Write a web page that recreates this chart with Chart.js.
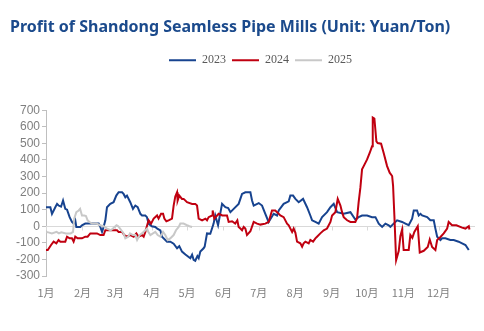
<!DOCTYPE html>
<html>
<head>
<meta charset="utf-8">
<script src="https://cdn.jsdelivr.net/npm/chart.js@4.4.1/dist/chart.umd.min.js"></script>
<style>
  html, body { margin: 0; padding: 0; background: #ffffff; }
  #wrap { width: 484px; height: 331px; position: relative; }
</style>
</head>
<body>
<div id="wrap"><canvas id="profitChart"></canvas></div>
<script>
// day-of-year where each month starts, and the axis labels for them
const monthStartDays = [0, 31, 59, 90, 120, 151, 181, 212, 243, 273, 304, 334];
const monthLabels = ['1月', '2月', '3月', '4月', '5月', '6月', '7月', '8月', '9月', '10月', '11月', '12月'];

// 2023 profit (yuan/ton) by day of year
const days2023 = [0, 3.7, 5.1, 7.9, 9.4, 10.7, 12.8, 14.5, 16.4, 17.9, 20.1, 22.1, 23.5, 24.9, 25.8, 29.2, 30.6, 33.4, 37.7, 44.8,
  46.2, 47.7, 49, 50.5, 51.9, 54.7, 57.5, 59.8, 61.8, 64.7, 66, 67.5, 68.9, 71.7, 74, 76, 78, 80.3, 81.7, 84.5,
  85.9, 87.3, 90, 93, 94.7, 97.3, 98.7, 103, 105.8, 108.6, 111.5, 113.4, 115.7, 118.6, 122.8, 124.3, 125.6, 127, 128.8, 129.9,
  131.3, 134.1, 135, 137, 139.8, 142.6, 144, 146.4, 149.8, 152.6, 155, 156.9, 159.7, 163.9, 166.8, 169.6, 173.9, 175.3, 176.7, 181,
  183.8, 186.6, 189.4, 193.7, 196.6, 198, 202.2, 206.5, 207.9, 210.2, 212.2, 215, 218.7, 222.1, 224.9, 226.4, 229.2, 232, 234.9, 239.1,
  242, 244.8, 247.7, 253.3, 259, 263.2, 266, 268.9, 273.2, 277.4, 280.3, 283.1, 286, 288.8, 291.6, 293, 295.8, 298.7, 303, 305.8,
  308.6, 311.5, 312.9, 315.7, 317.1, 318.6, 320, 324.3, 327, 329.9, 331.3, 332.8, 335.6, 337, 339.8, 344, 346.9, 351.1, 354, 356.9, 359.7];
const profit2023 = [115, 115, 75, 115, 135, 125, 118, 155, 105, 100, 55, 26, 16, 36, -4, -4, 6, 16, 16, 16,
  -4, -34, -4, 36, 115, 135, 145, 185, 205, 205, 195, 175, 185, 145, 105, 125, 115, 75, 65, 65,
  55, 16, 0, -4, -15, -25, -63, -93, -93, -105, -133, -120, -153, -170, -193, -172, -202, -208, -180, -193,
  -153, -133, -123, -43, -45, 16, 65, 6, 135, 115, 110, 85, 105, 135, 195, 205, 205, 155, 125, 140,
  125, 75, 26, 75, 65, 95, 135, 150, 185, 185, 165, 145, 165, 115, 65, 36, 26, 16, 55, 85,
  115, 135, 85, 75, 85, 40, 55, 65, 65, 55, 55, 16, -4, 16, 6, -4, 16, 36, 26, 16,
  6, 46, 95, 95, 65, 75, 65, 55, 36, 36, -14, -63, -83, -73, -73, -83, -83, -93, -103, -113, -143];

// 2024 profit (yuan/ton)
const days2024 = [0, 1.5, 4.3, 6.5, 8.8, 10.7, 12.2, 16.4, 17.9, 20.1, 22.1, 23.5, 24.9, 26.9, 30.6, 33.4, 35.4, 37.7, 43.4, 46.2,
  49, 50.5, 60.4, 61.8, 64.7, 66.6, 68.9, 71.7, 74.6, 76.9, 78.8, 81.7, 83.1, 84.5, 87.3, 89.4, 91.6, 94.5, 95.8, 97.9,
  99.6, 100.7, 102.4, 104.3, 107.2, 108.6, 110, 111.5, 112, 113.4, 115.7, 117.1, 120, 124.3, 127, 128.5, 129.9, 132.8, 135.6, 137,
  138.4, 141.3, 141.8, 143.2, 146.9, 150, 154, 155.4, 158.3, 161, 162.8, 163.9, 165.4, 166.8, 168.2, 169.6, 171, 173.9, 176.7, 179.6,
  182.4, 186.6, 189.4, 192.3, 195.1, 196.6, 199.4, 202.2, 205.1, 206.5, 209.4, 210.7, 212.2, 213.6, 216.4, 217.9, 219.2, 220.7, 223.5, 224.9,
  227.2, 229.2, 230.6, 233.4, 236.3, 239.1, 242, 243.4, 246.2, 248.2, 250.5, 251.9, 253.3, 256.2, 259, 263.2, 264.7, 266, 267.5, 268.9,
  270.3, 273.2, 275.4, 277.4, 278, 279.4, 281.1, 282.2, 285.1, 287.3, 290.2, 292.4, 294.5, 295.3, 296.4, 297.9, 300.1, 301.5, 303, 304.3,
  308.6, 310, 311.7, 313.4, 316.3, 318, 321.4, 324.8, 326.5, 328.5, 331.3, 332.8, 335.6, 338.4, 341.3, 342.6, 345.5, 349.2, 354, 356.9,
  359.7, 360.3];
const profit2024 = [-143, -143, -113, -93, -103, -83, -93, -93, -63, -73, -73, -93, -63, -73, -73, -63, -63, -43, -43, -53,
  -53, -24, -24, -34, -34, -53, -63, -53, -63, -43, -63, -53, -63, -34, 36, 16, 46, 65, 46, 75,
  75, 46, 30, 36, 46, 125, 180, 205, 155, 185, 165, 165, 145, 135, 135, 125, 46, 36, 46, 36,
  55, 65, 95, 46, 75, 65, 65, 26, 30, 16, 36, -4, -14, -24, -4, -14, -53, -30, 26, 16,
  10, 16, 26, 95, 95, 85, 65, 55, 16, 6, -34, -14, -40, -93, -103, -123, -103, -93, -103, -83,
  -93, -73, -63, -43, -24, -14, 26, 65, 85, 165, 125, 85, 55, 36, 26, 26, 50, 145, 234, 343,
  363, 403, 442, 482, 656, 650, 512, 502, 498, 442, 363, 323, 303, 244, 65, -205, -150, -60, -20, -143,
  -143, -53, -70, -34, 0, -158, -148, -125, -80, -125, -143, -83, -65, -43, -14, 26, 6, 6, -8, -14,
  0, -20];

// 2025 profit (yuan/ton), data so far
const days2025 = [0, 2, 5, 9, 11, 13, 17, 21, 23, 24, 25.8, 27.8, 29, 30.6, 32.6, 34, 35.4, 37, 39, 43,
  46, 49, 52, 55, 57, 60, 61.5, 63, 66, 67.5, 70, 71.5, 74, 76, 77.5, 79.7, 81.6, 84.5, 86, 87,
  88.8, 91, 93, 95, 97.3, 99.6, 101.5, 103.5, 105.7, 108.6, 110.6, 112.9, 114.3, 117, 120, 122, 124.3];
const profit2025 = [-34, -37, -43, -34, -43, -37, -43, -43, -34, 46, 85, 95, 105, 65, 65, 62, 36, 26, 16, 16,
  6, 0, -14, -24, -14, 6, 0, -14, -43, -73, -63, -43, -53, -53, -83, -53, -43, -24, -14, -34,
  -53, -43, -34, -53, -63, -34, -53, -83, -73, -53, -24, -4, 16, 16, 6, 0, -4];

const yTickMin = -300;
const yTickMax = 700;
const yTickStep = 100;

const toPoints = (xs, ys) => xs.map((x, i) => ({ x, y: ys[i] }));

// zero line across the plot with small month marks under it
const zeroLinePlugin = {
  id: 'zeroLine',
  beforeDatasetsDraw(chart) {
    const { ctx, chartArea, scales } = chart;
    const y0 = Math.round(scales.y.getPixelForValue(0)) + 0.5;
    ctx.save();
    ctx.strokeStyle = '#d9d9d9';
    ctx.lineWidth = 1;
    ctx.beginPath();
    ctx.moveTo(chartArea.left, y0);
    ctx.lineTo(chartArea.right, y0);
    monthStartDays.forEach(d => {
      const x = Math.round(scales.x.getPixelForValue(d)) + 0.5;
      ctx.moveTo(x, y0);
      ctx.lineTo(x, y0 + 4);
    });
    ctx.stroke();
    ctx.restore();
  }
};

// leave room between the legend and the plot
const legendGapPlugin = {
  id: 'legendGap',
  beforeInit(chart) {
    const fit = chart.legend.fit;
    chart.legend.fit = function () {
      fit.bind(chart.legend)();
      this.height += 34;
    };
  }
};

const lineStyle = (label, color, pts, order) => ({
  label,
  data: pts,
  borderColor: color,
  backgroundColor: color,
  borderWidth: 2,
  pointRadius: 0,
  tension: 0,
  fill: false,
  order
});

new Chart(document.getElementById('profitChart'), {
  type: 'line',
  data: {
    datasets: [
      lineStyle('2023', '#17438f', toPoints(days2023, profit2023), 3),
      lineStyle('2024', '#c00010', toPoints(days2024, profit2024), 2),
      lineStyle('2025', '#c8c8c8', toPoints(days2025, profit2025), 1)
    ]
  },
  options: {
    responsive: true,
    maintainAspectRatio: false,
    animation: false,
    layout: { padding: { left: 10, right: 9, top: 0, bottom: 0 } },
    plugins: {
      title: {
        display: true,
        text: 'Profit of Shandong Seamless Pipe Mills (Unit: Yuan/Ton)',
        align: 'start',
        color: '#1b4a8c',
        font: { family: '"Noto Sans", sans-serif', size: 16, weight: 'bold' },
        padding: { top: 18, bottom: 11 }
      },
      legend: {
        position: 'top',
        fullSize: false,
        labels: {
          boxWidth: 27,
          boxHeight: 2,
          padding: 6,
          color: '#595959',
          font: { family: '"Liberation Serif", serif', size: 12 },
          sort: (a, b) => a.datasetIndex - b.datasetIndex,
          generateLabels(chart) {
            const items = Chart.defaults.plugins.legend.labels.generateLabels(chart);
            items.forEach(item => { item.lineWidth = 0; });
            return items;
          }
        }
      },
      tooltip: { enabled: false }
    },
    scales: {
      x: {
        type: 'linear',
        min: 0,
        max: 365,
        grid: { display: false, drawTicks: false },
        border: { display: false },
        afterBuildTicks(scale) {
          scale.ticks = monthStartDays.map(v => ({ value: v }));
        },
        afterFit(scale) {
          scale.height = 55;
        },
        ticks: {
          autoSkip: false,
          maxRotation: 0,
          padding: 10,
          color: '#7f7f7f',
          font: { family: '"Noto Sans CJK SC", sans-serif', size: 11 },
          callback: (value) => monthLabels[monthStartDays.indexOf(value)]
        }
      },
      y: {
        min: yTickMin,
        max: yTickMax,
        grid: { display: true, drawOnChartArea: false, tickLength: 4, color: '#bfbfbf' },
        border: { display: true, color: '#bfbfbf' },
        afterFit(scale) {
          scale.width = 36;
        },
        ticks: {
          stepSize: yTickStep,
          autoSkip: false,
          padding: 2,
          color: '#7f7f7f',
          font: { family: '"Liberation Sans", sans-serif', size: 12 }
        }
      }
    }
  },
  plugins: [zeroLinePlugin, legendGapPlugin]
});
</script>
</body>
</html>
